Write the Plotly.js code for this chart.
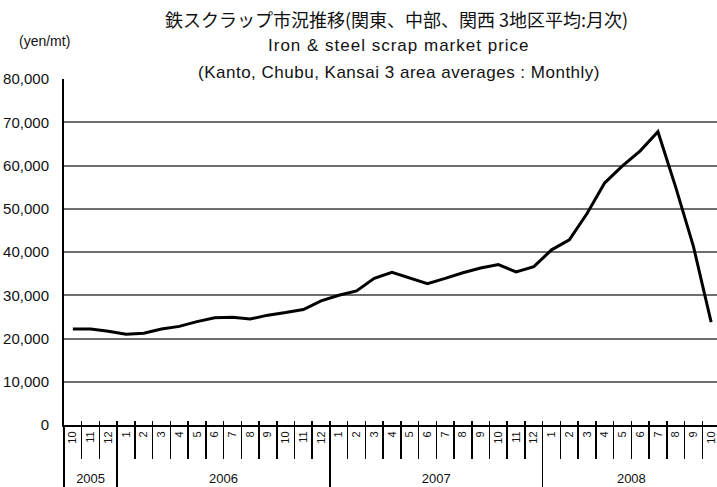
<!DOCTYPE html>
<html>
<head>
<meta charset="utf-8">
<script src="https://cdn.plot.ly/plotly-3.0.1.min.js"></script>
<style>
html,body{margin:0;padding:0;background:#fff;overflow:hidden;width:717px;height:487px;}
#chart{width:760px;height:487px;}
</style>
</head>
<body>
<div id="chart"></div>
<script>
// Data (2005-10 .. 2008-10), yen per metric ton
const monthLabels = ["10","11","12","1","2","3","4","5","6","7","8","9","10","11","12","1","2","3","4","5","6","7","8","9","10","11","12","1","2","3","4","5","6","7","8","9","10"];
const prices = [22200,22200,21700,21000,21200,22200,22800,23900,24800,24900,24500,25400,26000,26700,28700,30000,31000,33900,35300,34000,32700,33900,35200,36300,37100,35400,36600,40500,42800,48900,56000,59900,63400,67800,55000,41300,23800];
const years = ["2005","2006","2007","2008"];
const monthsPerYear = [3,12,12,10];
const yTicks = [0,10000,20000,30000,40000,50000,60000,70000,80000];
const yTickText = ["0","10,000","20,000","30,000","40,000","50,000","60,000","70,000","80,000"];
const titleJa = "鉄スクラップ市況推移(関東、中部、関西 3地区平均:月次)";
const titleEn1 = "Iron & steel scrap market price";
const titleEn2 = "(Kanto, Chubu, Kansai 3 area averages : Monthly)";
const unitLabel = "(yen/mt)";

const idx = monthLabels.map((_, i) => i);
const n = monthLabels.length;
const xr = [-0.5, n - 0.5];
const bounds = [];
for (let i = 0; i <= n; i++) bounds.push(i - 0.5);
const yearBounds = [-0.5];
const yearCenters = [];
let acc = 0;
monthsPerYear.forEach(m => { yearCenters.push(acc + (m - 1) / 2); acc += m; yearBounds.push(acc - 0.5); });

const F = "'Liberation Sans', Arial, sans-serif";
const traces = [
  {x: idx, y: prices, type: 'scatter', mode: 'lines', line: {color: '#000', width: 3}, hoverinfo: 'skip', showlegend: false},
  {x: [], y: [], xaxis: 'x2', type: 'scatter', showlegend: false},
  {x: [], y: [], xaxis: 'x3', type: 'scatter', showlegend: false},
  {x: [], y: [], xaxis: 'x4', type: 'scatter', showlegend: false},
  {x: [], y: [], xaxis: 'x5', type: 'scatter', showlegend: false}
];

const baseX = {range: xr, showgrid: false, zeroline: false, fixedrange: true};
const layout = {
  width: 760, height: 487,
  margin: {l: 64, r: 40, t: 79, b: 62},
  paper_bgcolor: '#fff', plot_bgcolor: '#fff',
  font: {family: F, color: '#111'},
  showlegend: false,
  xaxis: Object.assign({}, baseX, {
    tickmode: 'array', tickvals: idx, ticktext: monthLabels, tickangle: -90,
    ticks: '', showline: true, linecolor: '#000', linewidth: 2,
    tickfont: {family: F, size: 11, color: '#111'}
  }),
  xaxis2: Object.assign({}, baseX, {
    overlaying: 'x', anchor: 'y', side: 'bottom',
    tickmode: 'array', tickvals: bounds, ticks: 'outside', ticklen: 33, tickwidth: 1.5, tickcolor: '#000',
    showticklabels: false, showline: false
  }),
  xaxis3: Object.assign({}, baseX, {
    overlaying: 'x', anchor: 'y', side: 'bottom',
    tickmode: 'array', tickvals: yearBounds, ticks: 'outside', ticklen: 64, tickwidth: 1.5, tickcolor: '#000',
    showticklabels: false, showline: false
  }),
  xaxis4: Object.assign({}, baseX, {
    overlaying: 'x', anchor: 'y', side: 'bottom',
    tickmode: 'array', tickvals: yearCenters, ticktext: years, ticks: '',
    ticklabelstandoff: 44, showline: false,
    tickfont: {family: F, size: 13, color: '#111'}
  }),
  xaxis5: Object.assign({}, baseX, {
    overlaying: 'x', anchor: 'y', side: 'bottom',
    tickmode: 'array', tickvals: bounds, ticks: 'inside', ticklen: 4, tickwidth: 1.5, tickcolor: '#000',
    showticklabels: false, showline: false
  }),
  yaxis: {
    range: [0, 80000], tickmode: 'array', tickvals: yTicks, ticktext: yTickText,
    showgrid: true, gridcolor: '#6e6e6e', gridwidth: 2, zeroline: false,
    showline: true, linecolor: '#000', linewidth: 2, ticks: '',
    ticklabelstandoff: 10, tickfont: {family: F, size: 15, color: '#111'}, fixedrange: true
  },
  annotations: [
    {text: titleJa, xref: 'paper', yref: 'paper', x: 0.507, y: 1, yshift: 60, xanchor: 'center', yanchor: 'middle', showarrow: false,
     font: {family: "'Noto Sans CJK JP', sans-serif", size: 18, color: '#111'}},
    {text: '<span style="letter-spacing:1px">' + titleEn1 + '</span>', xref: 'paper', yref: 'paper', x: 0.51, y: 1, yshift: 34, xanchor: 'center', yanchor: 'middle', showarrow: false,
     font: {family: F, size: 17, color: '#111'}},
    {text: '<span style="letter-spacing:0.5px">' + titleEn2 + '</span>', xref: 'paper', yref: 'paper', x: 0.51, y: 1, yshift: 7, xanchor: 'center', yanchor: 'middle', showarrow: false,
     font: {family: F, size: 17, color: '#111'}},
    {text: unitLabel, xref: 'paper', yref: 'paper', x: -0.03, y: 1, yshift: 38, xanchor: 'center', yanchor: 'middle', showarrow: false,
     font: {family: F, size: 14, color: '#111'}}
  ]
};

Plotly.newPlot('chart', traces, layout, {staticPlot: true, displayModeBar: false});
</script>
</body>
</html>
